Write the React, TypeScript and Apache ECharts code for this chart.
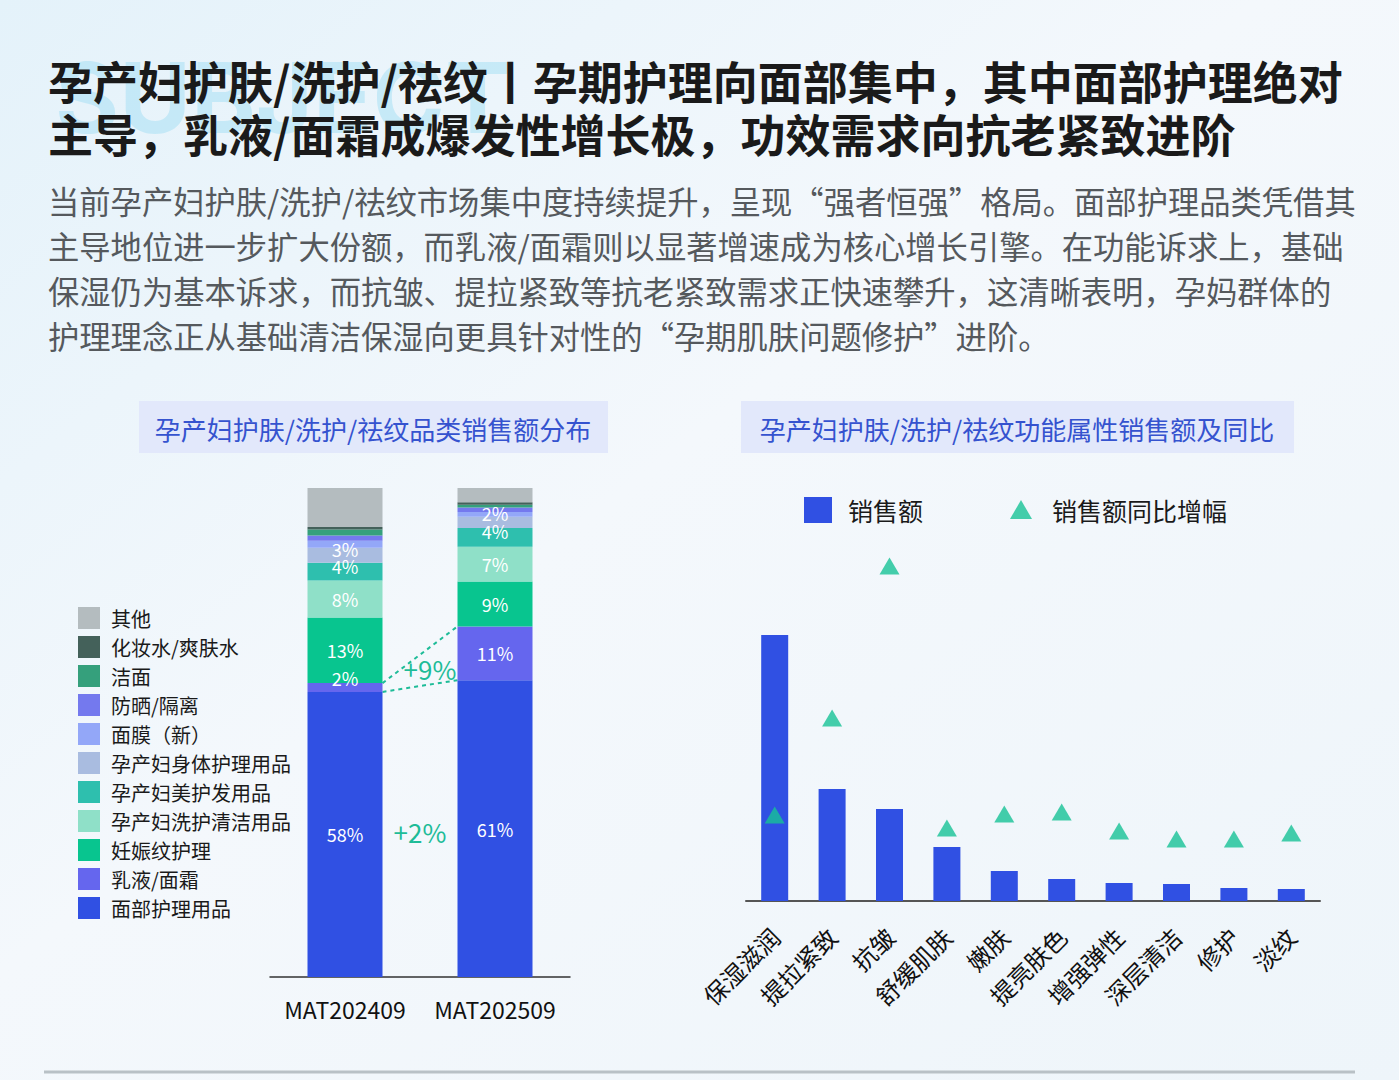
import React, { useRef, useEffect } from 'react'
import * as echarts from 'echarts'

// 左图：品类销售额占比（%）
const periods = ['MAT202409', 'MAT202509']
const categoryNames = [
  '面部护理用品',
  '乳液/面霜',
  '妊娠纹护理',
  '孕产妇洗护清洁用品',
  '孕产妇美护发用品',
  '孕产妇身体护理用品',
  '面膜（新）',
  '防晒/隔离',
  '洁面',
  '化妆水/爽肤水',
  '其他',
]
const share2409 = [58.3, 1.8, 13.4, 7.6, 3.6, 3.1, 1.4, 1.1, 1.2, 0.5, 8.0]
const share2509 = [60.7, 11.0, 9.2, 7.1, 3.8, 2.3, 1.0, 0.9, 0.6, 0.5, 2.9]
const faceChange = '+2%'
const lotionChange = '+9%'

// 右图：功能属性销售额及同比
const functionNames = ['保湿滋润', '提拉紧致', '抗皱', '舒缓肌肤', '嫩肤', '提亮肤色', '增强弹性', '深层清洁', '修护', '淡纹']
const sales = [26.6, 11.2, 9.2, 5.4, 3.0, 2.2, 1.8, 1.7, 1.3, 1.2]
const salesYoy = [28.7, 61.0, 111.7, 24.3, 29.0, 29.7, 23.3, 20.7, 20.7, 22.7]

const categoryColors = [
  '#3050e3', '#6566ee', '#08c58f', '#8fe0c8', '#2ebfae', '#a9bce0',
  '#93a7f8', '#7479ee', '#35a07c', '#44615a', '#b4bcbf',
]
const labelledCount = 6

const titleLines = [
  '孕产妇护肤/洗护/祛纹丨孕期护理向面部集中，其中面部护理绝对',
  '主导，乳液/面霜成爆发性增长极，功效需求向抗老紧致进阶',
]
const bodyLines = [
  '当前孕产妇护肤/洗护/祛纹市场集中度持续提升，呈现“强者恒强”格局。面部护理品类凭借其',
  '主导地位进一步扩大份额，而乳液/面霜则以显著增速成为核心增长引擎。在功能诉求上，基础',
  '保湿仍为基本诉求，而抗皱、提拉紧致等抗老紧致需求正快速攀升，这清晰表明，孕妈群体的',
  '护理理念正从基础清洁保湿向更具针对性的“孕期肌肤问题修护”进阶。',
]

const font = '"Noto Sans CJK SC", "Noto Sans", sans-serif'

const App: React.FC = () => {
  const chartRef = useRef<HTMLDivElement>(null)

  useEffect(() => {
    if (!chartRef.current) return
    const chart = echarts.init(chartRef.current, null, { renderer: 'svg' })

    const stackSeries = categoryNames.map((name, i) => ({
      name,
      type: 'bar',
      stack: 'share',
      xAxisIndex: 0,
      yAxisIndex: 0,
      barWidth: 75,
      itemStyle: { color: categoryColors[i] },
      label: {
        show: i < labelledCount,
        position: 'inside',
        color: '#ffffff',
        fontSize: 18,
        fontFamily: font,
        formatter: (p: any) => Math.round(p.value) + '%',
      },
      data: [share2409[i], share2509[i]].map((v) => ({
        value: v,
        label: { offset: [0, v < 2 ? -10 : v < 2.5 ? -9 : v < 5 ? -6 : 0] },
      })),
    }))

    const option = {
      animation: false,
      backgroundColor: new echarts.graphic.LinearGradient(0, 0, 1, 1, [
        { offset: 0, color: '#e4f2fa' },
        { offset: 0.45, color: '#f4f8fc' },
        { offset: 1, color: '#eef5fa' },
      ]),
      textStyle: { fontFamily: font },
      grid: [
        { left: 270, top: 488, width: 300, height: 489 },
        { left: 746, top: 541, width: 574, height: 360 },
      ],
      legend: [
        {
          data: [...categoryNames].reverse(),
          orient: 'vertical',
          left: 73,
          top: 602,
          itemWidth: 22,
          itemHeight: 22,
          itemGap: 7,
          icon: 'rect',
          textStyle: { fontSize: 20, color: '#1a1a1a', fontFamily: font, padding: [0, 0, 0, 6] },
        },
        {
          data: ['销售额'],
          left: 799,
          top: 492,
          itemWidth: 28,
          itemHeight: 26,
          icon: 'rect',
          textStyle: { fontSize: 25, color: '#1a1a1a', fontFamily: font, padding: [0, 0, 0, 11] },
        },
        {
          data: ['销售额同比增幅'],
          left: 1005,
          top: 492,
          itemWidth: 22,
          itemHeight: 19,
          textStyle: { fontSize: 25, color: '#1a1a1a', fontFamily: font, padding: [0, 0, 0, 15] },
        },
      ],
      xAxis: [
        {
          type: 'category',
          gridIndex: 0,
          data: periods,
          axisTick: { show: false },
          axisLine: { lineStyle: { color: '#333', width: 1.5 } },
          axisLabel: { fontSize: 23, color: '#111', margin: 20, interval: 0, fontFamily: font },
        },
        {
          type: 'category',
          gridIndex: 1,
          data: functionNames,
          axisTick: { show: false },
          axisLine: { lineStyle: { color: '#555', width: 2 } },
          axisLabel: { fontSize: 24, color: '#111', margin: 31, rotate: 45, interval: 0, fontFamily: font },
        },
      ],
      yAxis: [
        { type: 'value', gridIndex: 0, min: 0, max: 100, show: false },
        { type: 'value', gridIndex: 1, min: 0, max: 36, show: false },
        { type: 'value', gridIndex: 1, min: 0, max: 120, show: false },
      ],
      series: [
        ...stackSeries,
        {
          name: '销售额',
          type: 'bar',
          xAxisIndex: 1,
          yAxisIndex: 1,
          barWidth: 27,
          itemStyle: { color: '#3050e3' },
          data: sales,
        },
        {
          name: '销售额同比增幅',
          type: 'scatter',
          xAxisIndex: 1,
          yAxisIndex: 2,
          symbol: 'triangle',
          symbolSize: [20, 17],
          itemStyle: { color: '#17c296' },
          data: salesYoy,
        },
      ],
    }

    chart.setOption(option)

    // 连接虚线与增幅标注，坐标由坐标轴换算
    const toPx = (idx: number, v: number) => chart.convertToPixel({ seriesIndex: 0 }, [idx, v]) as number[]
    const half = 75 / 2
    const b1 = toPx(0, share2409[0])
    const t1 = toPx(0, share2409[0] + share2409[1])
    const b2 = toPx(1, share2509[0])
    const t2 = toPx(1, share2509[0] + share2509[1])
    const m1 = toPx(0, share2409[0] / 2)
    const m2 = toPx(1, share2509[0] / 2)
    const dash = { stroke: '#1ebc98', lineWidth: 2, lineDash: [4, 4] }

    const centered = { align: 'center', textAlign: 'center', verticalAlign: 'middle', textVerticalAlign: 'middle' }

    const graphics: any[] = [
      {
        id: 'watermark',
        type: 'text',
        x: 55,
        y: 48,
        z: 0,
        style: {
          text: 'SUBJECT',
          fontSize: 98,
          fontWeight: 'bold',
          fontFamily: 'Inter, "Noto Sans", sans-serif',
          fill: 'rgba(140, 215, 242, 0.38)',
          verticalAlign: 'top',
          textVerticalAlign: 'top',
        },
      },
      ...titleLines.map((t, i) => ({
        id: 'title' + i,
        type: 'text',
        x: 48,
        y: 80 + i * 53,
        z: 5,
        style: {
          text: t,
          fontSize: 45,
          fontWeight: 'bold',
          fontFamily: font,
          fill: '#1a1a1a',
          verticalAlign: 'middle',
          textVerticalAlign: 'middle',
        },
      })),
      ...bodyLines.map((t, i) => ({
        id: 'body' + i,
        type: 'text',
        x: 48,
        y: 200 + i * 45,
        z: 5,
        style: {
          text: t,
          fontSize: 31.3,
          fontFamily: font,
          fill: '#55595d',
          verticalAlign: 'middle',
          textVerticalAlign: 'middle',
        },
      })),
      {
        id: 'boxL',
        type: 'rect',
        shape: { x: 139, y: 401, width: 469, height: 52 },
        style: { fill: '#e2e8fb' },
      },
      {
        id: 'boxLText',
        type: 'text',
        x: 373,
        y: 428,
        style: { text: '孕产妇护肤/洗护/祛纹品类销售额分布', fontSize: 26, fontFamily: font, fill: '#3553cf', ...centered },
      },
      {
        id: 'boxR',
        type: 'rect',
        shape: { x: 741, y: 401, width: 553, height: 52 },
        style: { fill: '#e2e8fb' },
      },
      {
        id: 'boxRText',
        type: 'text',
        x: 1017,
        y: 428,
        style: { text: '孕产妇护肤/洗护/祛纹功能属性销售额及同比', fontSize: 26, fontFamily: font, fill: '#3553cf', ...centered },
      },
      {
        id: 'dashTop',
        type: 'line',
        shape: { x1: t1[0] + half, y1: t1[1], x2: t2[0] - half, y2: t2[1] },
        style: dash,
      },
      {
        id: 'dashBottom',
        type: 'line',
        shape: { x1: b1[0] + half, y1: b1[1], x2: b2[0] - half, y2: b2[1] },
        style: dash,
      },
      {
        id: 'lotionChange',
        type: 'text',
        x: (t1[0] + t2[0]) / 2 + 10,
        y: (t1[1] + t2[1] + b1[1] + b2[1]) / 4 - 2,
        z: 10,
        style: { text: lotionChange, fontSize: 26, fontFamily: font, fill: '#1ebc98', ...centered },
      },
      {
        id: 'faceChange',
        type: 'text',
        x: (m1[0] + m2[0]) / 2,
        y: (m1[1] + m2[1]) / 2,
        z: 10,
        style: { text: faceChange, fontSize: 26, fontFamily: font, fill: '#1ebc98', ...centered },
      },
      {
        id: 'footLine',
        type: 'line',
        shape: { x1: 44, y1: 1072, x2: 1355, y2: 1072 },
        style: { stroke: '#b9c1c6', lineWidth: 3 },
      },
    ]

    chart.setOption({ graphic: graphics })

    return () => {
      chart.dispose()
    }
  }, [])

  return (
    <div
      ref={chartRef}
      style={{ position: 'absolute', left: 0, top: 0, width: '1399px', height: '1080px' }}
    />
  )
}

export default App
